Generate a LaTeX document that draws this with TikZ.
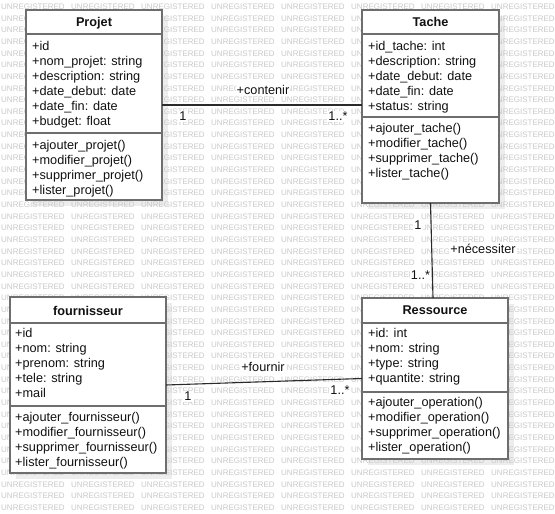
\documentclass[tikz,border=0pt]{standalone}
\usepackage{fontspec}
\setmainfont{Liberation Sans}
\usetikzlibrary{calc}

\definecolor{boxline}{HTML}{6E6E6E}
\definecolor{shadowgray}{HTML}{EDEDED}
\definecolor{wmgray}{HTML}{C9C9C9}
\definecolor{linkline}{HTML}{2A2A2A}
\definecolor{inktext}{HTML}{111111}

\newcommand{\umlfont}{\fontsize{12.7}{15}\selectfont}
\newcommand{\wmfont}{\fontsize{8}{8}\selectfont}

\pgfdeclarelayer{shadows}
\pgfdeclarelayer{watermark}
\pgfsetlayers{shadows,watermark,main}

% one class compartment list: prefix, x, first baseline, items
\newcommand{\memberlist}[4]{%
  \foreach \t [count=\i] in {#4}
    \node[member] (#1\i) at (#2,{#3+14.9*(\i-1)}) {\t};}

% class frame with its drop shadow: name, centre x, centre y, width, height
\newcommand{\classframe}[5]{%
  \node[frame, minimum width=#4pt, minimum height=#5pt] (#1) at (#2,#3) {};
  \begin{pgfonlayer}{shadows}
    \fill[shadowgray] ($(#1.north west)+(6,6)$) rectangle ($(#1.south east)+(6,6)$);
  \end{pgfonlayer}}

\begin{document}
\begin{tikzpicture}[x=1pt,y=-1pt,
  frame/.style={rectangle,draw=boxline,line width=1.8pt,fill=white,inner sep=0pt,outer sep=0pt},
  divider/.style={draw=boxline,line width=1.8pt},
  title/.style={font=\umlfont\bfseries,text=inktext,anchor=base,inner sep=0pt},
  member/.style={font=\umlfont,text=inktext,anchor=base west,inner sep=0pt},
  link/.style={draw=linkline,line width=1.1pt},
  tag/.style={font=\umlfont,text=inktext,anchor=base,fill=white,inner sep=1pt},
  wmtext/.style={font=\wmfont,text=wmgray,anchor=west,inner sep=0pt}]

\useasboundingbox (0,0) rectangle (555,514);
\begin{pgfonlayer}{shadows}
  \fill[white] (0,0) rectangle (555,514);
\end{pgfonlayer}

% tiled watermark; tiles lying wholly under a class frame are left out
\begin{pgfonlayer}{watermark}
  \foreach \r in {0,...,43}{
    \foreach \c in {0,...,7}{
      \pgfmathsetmacro\wx{1+70*\c}
      \pgfmathsetmacro\wy{6.7+11.65*\r}
      \pgfmathtruncatemacro\hidden{
        ((\wx>=25)&&(\wx+64<=163)&&(\wy>=13)&&(\wy<=197)) ||
        ((\wx>=361)&&(\wx+64<=500)&&(\wy>=13)&&(\wy<=200)) ||
        ((\wx>=9)&&(\wx+64<=167)&&(\wy>=300)&&(\wy<=470)) ||
        ((\wx>=361)&&(\wx+64<=509)&&(\wy>=301)&&(\wy<=456))}
      \ifnum\hidden=0
        \node[wmtext] (wm-\r-\c) at (\wx,\wy) {UNREGISTERED};
      \fi}}
\end{pgfonlayer}

% ---- Projet ----
\classframe{projet}{94}{105}{136}{190}
\draw[divider] ($(projet.north west)+(0,24)$) -- ($(projet.north east)+(0,24)$);
\draw[divider] ($(projet.north west)+(0,123)$) -- ($(projet.north east)+(0,123)$);
\node[title] (projet-name) at (94,26.5) {Projet};
\memberlist{projet-a}{32}{50.5}{+id,+nom\_projet: string,+description: string,+date\_debut: date,+date\_fin: date,+budget: float}
\memberlist{projet-m}{32}{149.5}{+ajouter\_projet(),+modifier\_projet(),+supprimer\_projet(),+lister\_projet()}

% ---- Tache ----
\classframe{tache}{430.5}{106.5}{137}{193}
\draw[divider] ($(tache.north west)+(0,24)$) -- ($(tache.north east)+(0,24)$);
\draw[divider] ($(tache.north west)+(0,107)$) -- ($(tache.north east)+(0,107)$);
\node[title] (tache-name) at (430.5,26.5) {Tache};
\memberlist{tache-a}{368}{50.5}{+id\_tache: int,+description: string,+date\_debut: date,+date\_fin: date,+status: string}
\memberlist{tache-m}{368}{132.5}{+ajouter\_tache(),+modifier\_tache(),+supprimer\_tache(),+lister\_tache()}

% ---- fournisseur ----
\classframe{fournisseur}{88}{385}{156}{176}
\draw[divider] ($(fournisseur.north west)+(0,26)$) -- ($(fournisseur.north east)+(0,26)$);
\draw[divider] ($(fournisseur.north west)+(0,109)$) -- ($(fournisseur.north east)+(0,109)$);
\node[title] (fournisseur-name) at (88,315.5) {fournisseur};
\memberlist{fournisseur-a}{15}{337.5}{+id,+nom: string,+prenom: string,+tele: string,+mail}
\memberlist{fournisseur-m}{15}{421.5}{+ajouter\_fournisseur(),+modifier\_fournisseur(),+supprimer\_fournisseur(),+lister\_fournisseur()}

% ---- Ressource ----
\classframe{ressource}{435}{378.5}{146}{161}
\draw[divider] ($(ressource.north west)+(0,25)$) -- ($(ressource.north east)+(0,25)$);
\draw[divider] ($(ressource.north west)+(0,94)$) -- ($(ressource.north east)+(0,94)$);
\node[title] (ressource-name) at (435,314.5) {Ressource};
\memberlist{ressource-a}{368}{337.5}{+id: int,+nom: string,+type: string,+quantite: string}
\memberlist{ressource-m}{368}{406.5}{+ajouter\_operation(),+modifier\_operation(),+supprimer\_operation(),+lister\_operation()}

% ---- associations ----
\draw[link] (projet.east) -- (projet.east -| tache.west);
\draw[link] (tache.south) -- ($(ressource.north)+(-2,0)$);
\draw[link] (fournisseur.east) -- (ressource.west);

\node[tag] (contenir) at (263,94.5) {+contenir};
\node[tag] (contenir-a) at (183,120.5) {1};
\node[tag] (contenir-b) at (338,120.5) {1..*};

\node[tag] (necessiter) at (483,253.5) {+nécessiter};
\node[tag] (necessiter-a) at (418,229.5) {1};
\node[tag] (necessiter-b) at (420.5,279.5) {1..*};

\node[tag] (fournir) at (263,371.8) {+fournir};
\node[tag] (fournir-a) at (188,400.5) {1};
\node[tag] (fournir-b) at (340,394.5) {1..*};
\end{tikzpicture}
\end{document}
